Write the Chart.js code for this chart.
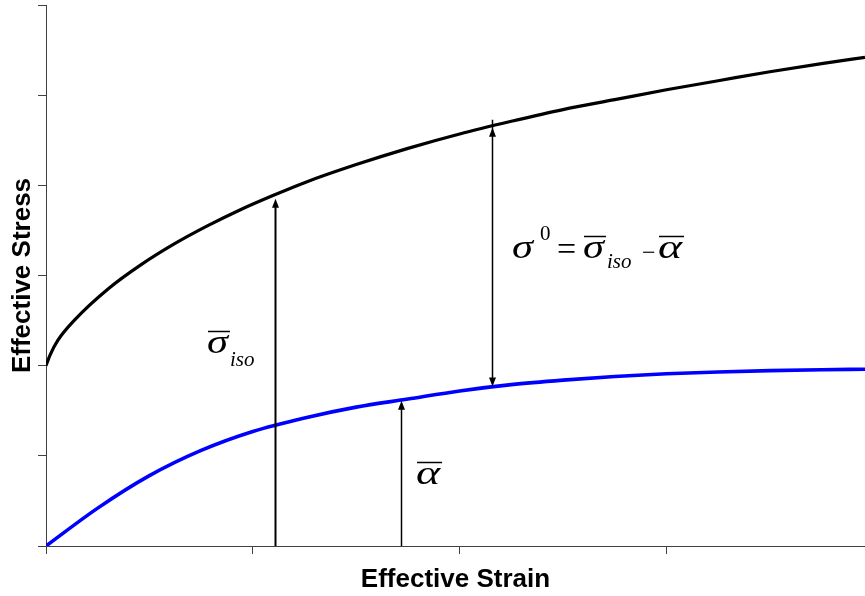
<!DOCTYPE html>
<html><head><meta charset="utf-8">
<script src="https://cdn.jsdelivr.net/npm/chart.js@4.4.1/dist/chart.umd.min.js"></script>
<style>html,body{margin:0;padding:0;background:#fff;} #wrap{width:865px;height:596px;position:relative;}</style>
</head><body><div id="wrap"><canvas id="c"></canvas></div>
<script>
// Isotropic hardening curve (black)
const strainIso = [0, 0.02, 0.057, 0.14, 0.30, 0.46, 0.62, 0.78, 0.94, 1.10, 1.25, 1.5, 1.75, 2.0, 2.25, 2.5, 2.75, 3.0, 3.25, 3.5, 3.75, 3.96];
const stressIso = [2.00, 2.12, 2.28, 2.51, 2.85, 3.12, 3.35, 3.55, 3.73, 3.89, 4.03, 4.23, 4.41, 4.57, 4.71, 4.84, 4.95, 5.06, 5.16, 5.26, 5.35, 5.42];
// Back stress curve (blue)
const strainBack = [0, 0.25, 0.5, 0.75, 1.0, 1.25, 1.5, 1.75, 2.0, 2.25, 2.5, 2.75, 3.0, 3.25, 3.5, 3.75, 3.96];
const stressBack = [0, 0.42, 0.78, 1.06, 1.27, 1.42, 1.54, 1.63, 1.72, 1.79, 1.84, 1.88, 1.91, 1.93, 1.945, 1.955, 1.96];
// Axis ticks
const xTicks = [0, 1, 2, 3];
const yTicks = [0, 1, 2, 3, 4, 5, 6];
// Arrows (x position, from, to, double-headed)
const arrowX = [1.105, 1.715, 2.157];
const arrowFrom = [0, 0, 4.64];
const arrowTo = [3.85, 1.61, 1.77];
const arrowBoth = [false, false, true];
const arrowWidth = [2, 1.5, 1.5];

const toPts = (xs, ys) => xs.map((v, i) => ({x: v, y: ys[i]}));

const serif = '"Liberation Serif", "Times New Roman", serif';
// draw a (optionally widened) italic greek glyph, optionally with an overbar
function greek(ctx, ch, x, base, size, sx, bar) {
  ctx.font = 'italic ' + size + 'px ' + serif;
  const w = ctx.measureText(ch).width * sx;
  ctx.save();
  ctx.translate(x, base);
  ctx.scale(sx, 1);
  ctx.fillText(ch, 0, 0);
  ctx.restore();
  if (bar) {
    ctx.lineWidth = 1.5;
    ctx.beginPath();
    ctx.moveTo(x + 1, base - 21.5);
    ctx.lineTo(x + w + 2, base - 21.5);
    ctx.stroke();
  }
  return w;
}
function arrowHead(ctx, x, tipY, dir) {
  ctx.beginPath();
  ctx.moveTo(x, tipY);
  ctx.lineTo(x - 3.5, tipY - dir * 9);
  ctx.lineTo(x + 3.5, tipY - dir * 9);
  ctx.closePath();
  ctx.fill();
}

const annot = {
  id: 'annot',
  afterDatasetsDraw(chart) {
    const {ctx, scales: {x, y}} = chart;
    ctx.save();
    ctx.strokeStyle = '#000';
    ctx.fillStyle = '#000';
    for (let i = 0; i < arrowX.length; i++) {
      const px = Math.round(x.getPixelForValue(arrowX[i])) + 0.5;
      const y0 = y.getPixelForValue(arrowFrom[i]);
      const y1 = y.getPixelForValue(arrowTo[i]);
      const dir = y1 < y0 ? -1 : 1;
      ctx.lineWidth = arrowWidth[i];
      ctx.beginPath();
      ctx.moveTo(px, arrowBoth[i] ? y0 - dir * 8 : y0);
      ctx.lineTo(px, y1 - dir * 8);
      ctx.stroke();
      arrowHead(ctx, px, y1, dir);
      if (arrowBoth[i]) arrowHead(ctx, px, y0, -dir);
    }
    ctx.textBaseline = 'alphabetic';
    ctx.textAlign = 'left';
    // label: sigma_iso
    let ax = x.getPixelForValue(0.7785), ay = y.getPixelForValue(2.1405);
    greek(ctx, 'σ', ax, ay, 34, 1.25, true);
    ctx.font = 'italic 21px ' + serif;
    ctx.fillText('iso', ax + 23, ay + 13);
    // label: equation
    ax = x.getPixelForValue(2.2532); ay = y.getPixelForValue(3.1941);
    greek(ctx, 'σ', ax, ay, 34, 1.25, false);
    ctx.font = '21px ' + serif;
    ctx.fillText('0', ax + 28, ay - 18);
    ctx.font = '34px ' + serif;
    ctx.fillText('=', ax + 45, ay + 2);
    greek(ctx, 'σ', ax + 71, ay, 34, 1.25, true);
    ctx.font = 'italic 21px ' + serif;
    ctx.fillText('iso', ax + 95, ay + 10);
    ctx.font = '24px ' + serif;
    ctx.fillText('−', ax + 130, ay + 2);
    greek(ctx, 'α', ax + 146, ay, 34, 1.35, true);
    // label: alpha
    ax = x.getPixelForValue(1.789); ay = y.getPixelForValue(0.6876);
    greek(ctx, 'α', ax, ay, 34, 1.35, true);
    ctx.restore();
  }
};

const axisColor = '#404040';
const titleFont = {family: '"Liberation Sans", Arial, sans-serif', size: 26, weight: 'bold'};

new Chart(document.getElementById('c'), {
  type: 'scatter',
  data: {
    datasets: [
      {label: 'Isotropic', data: toPts(strainIso, stressIso), showLine: true, borderColor: '#000', borderWidth: 3.2, pointRadius: 0, cubicInterpolationMode: 'monotone', fill: false},
      {label: 'Back stress', data: toPts(strainBack, stressBack), showLine: true, borderColor: '#0000ff', borderWidth: 3.6, pointRadius: 0, cubicInterpolationMode: 'monotone', fill: false}
    ]
  },
  options: {
    responsive: true,
    maintainAspectRatio: false,
    animation: false,
    layout: {padding: {top: 5, right: 0, left: 0, bottom: 0}},
    plugins: {legend: {display: false}, tooltip: {enabled: false}},
    scales: {
      x: {
        type: 'linear', min: 0, max: 3.96,
        afterBuildTicks: s => { s.ticks = xTicks.map(v => ({value: v})); },
        afterFit: s => { s.height = 50; },
        ticks: {display: false},
        grid: {drawOnChartArea: false, drawTicks: true, tickLength: 8, color: axisColor, lineWidth: 1},
        border: {display: true, color: axisColor, width: 1},
        title: {display: true, text: 'Effective Strain', color: '#000', font: titleFont, padding: {top: 0, bottom: 1}}
      },
      y: {
        type: 'linear', min: 0, max: 6,
        afterBuildTicks: s => { s.ticks = yTicks.map(v => ({value: v})); },
        afterFit: s => { s.width = 46; },
        ticks: {display: false},
        grid: {drawOnChartArea: false, drawTicks: true, tickLength: 8, color: axisColor, lineWidth: 1},
        border: {display: true, color: axisColor, width: 1},
        title: {display: true, text: 'Effective Stress', color: '#000', font: titleFont, padding: {top: 7, bottom: 0}}
      }
    }
  },
  plugins: [annot]
});
</script>
</body></html>
